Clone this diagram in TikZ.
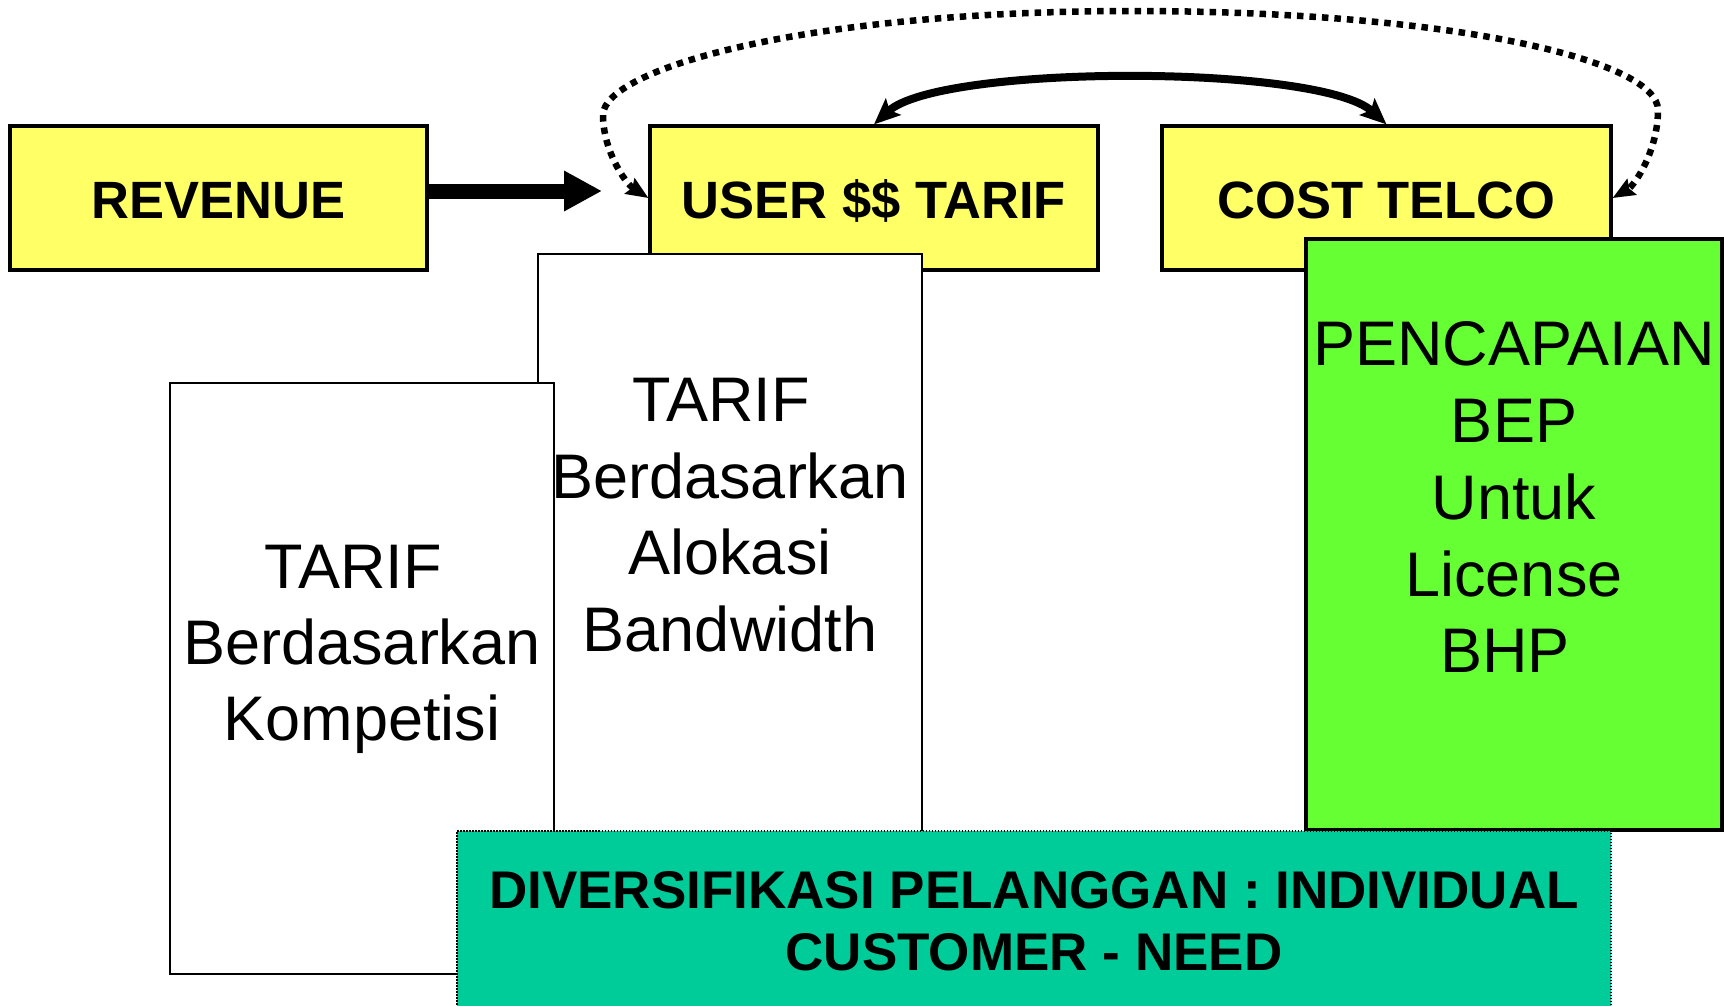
\documentclass[tikz,border=0pt]{standalone}
\usepackage{fontspec}
\setmainfont{Liberation Sans}
\usetikzlibrary{arrows.meta}
\definecolor{boxyellow}{HTML}{FFFF66}
\definecolor{boxgreen}{HTML}{66FF33}
\definecolor{boxteal}{HTML}{00CC99}
\begin{document}
\begin{tikzpicture}[x=1pt,y=-1pt,
  yellowbox/.style={draw=black, line width=3.2pt, fill=boxyellow, inner sep=0pt,
    minimum height=144pt, font=\fontsize{52.5}{61}\selectfont\bfseries,
    text height=40pt, text depth=0pt},
  whitebox/.style={draw=black, line width=2.8pt, fill=white, inner sep=0pt},
  greenbox/.style={draw=black, line width=3.2pt, fill=boxgreen, inner sep=0pt},
  tealbox/.style={draw=black, line width=1.5pt, dash pattern=on 1.5pt off 1.5pt,
    fill=boxteal, inner sep=0pt},
  bodytext/.style={anchor=base, inner sep=0pt, font=\fontsize{63}{77}\selectfont},
  boldtext/.style={anchor=base, inner sep=0pt, font=\fontsize{53}{62}\selectfont\bfseries},
  flow/.style={line width=15pt, -{Triangle[length=38pt,width=38pt]}},
  link/.style={line width=8pt,
    {Stealth[length=26pt,width=22pt,inset=5pt]}-{Stealth[length=26pt,width=22pt,inset=5pt]}},
  feedback/.style={line width=6.5pt, dash pattern=on 6.5pt off 6pt,
    {Stealth[length=22pt,width=18pt,inset=3pt]}-{Stealth[length=22pt,width=18pt,inset=3pt]}},
]
\useasboundingbox (0,0) rectangle (1724,1005);

% top row
\node[yellowbox, minimum width=417pt] (revenue) at (218.5,198) {REVENUE};
\node[yellowbox, minimum width=448pt] (user) at (874,198) {USER \$\$ TARIF};
\node[yellowbox, minimum width=449pt] (cost) at (1386.5,198) {COST TELCO};

% tariff panels
\node[whitebox, minimum width=384pt, minimum height=578pt] (bwbox) at (730,543) {};
\node[whitebox, minimum width=384pt, minimum height=591pt] (kompbox) at (362,678.5) {};
\node[greenbox, minimum width=416pt, minimum height=591pt] (bepbox) at (1514,534.5) {};
\node[tealbox, minimum width=1154pt, minimum height=184pt] (divbox) at (1034,923) {};

% panel texts
\node[bodytext] (bw1) at (721,421) {TARIF};
\node[bodytext] (bw2) at (730,498) {Berdasarkan};
\node[bodytext] (bw3) at (730,574) {Alokasi};
\node[bodytext] (bw4) at (730,651) {Bandwidth};

\node[bodytext] (komp1) at (353,588) {TARIF};
\node[bodytext] (komp2) at (362,664) {Berdasarkan};
\node[bodytext] (komp3) at (362,740) {Kompetisi};

\node[bodytext] (bep1) at (1514,365) {PENCAPAIAN};
\node[bodytext] (bep2) at (1514,442) {BEP};
\node[bodytext] (bep3) at (1514,519) {Untuk};
\node[bodytext] (bep4) at (1514,596) {License};
\node[bodytext] (bep5) at (1505,672) {BHP};

\node[boldtext] (div1) at (1034,908) {DIVERSIFIKASI PELANGGAN : INDIVIDUAL};
\node[boldtext] (div2) at (1034,970) {CUSTOMER - NEED};

% connectors
\coordinate (revtip) at (602,191);
\draw[flow] (revenue.east |- revtip) -- (revtip);
\draw[link] (user.north) .. controls (940,64) and (1320,64) .. (cost.north);
\draw[feedback] (user.west) .. controls (625,183) and (603,150) .. (603,115)
  .. controls (603,70) and (800,11) .. (1133,11)
  .. controls (1450,11) and (1658,60) .. (1658,110)
  .. controls (1658,150) and (1635,185) .. (cost.east);
\end{tikzpicture}
\end{document}
